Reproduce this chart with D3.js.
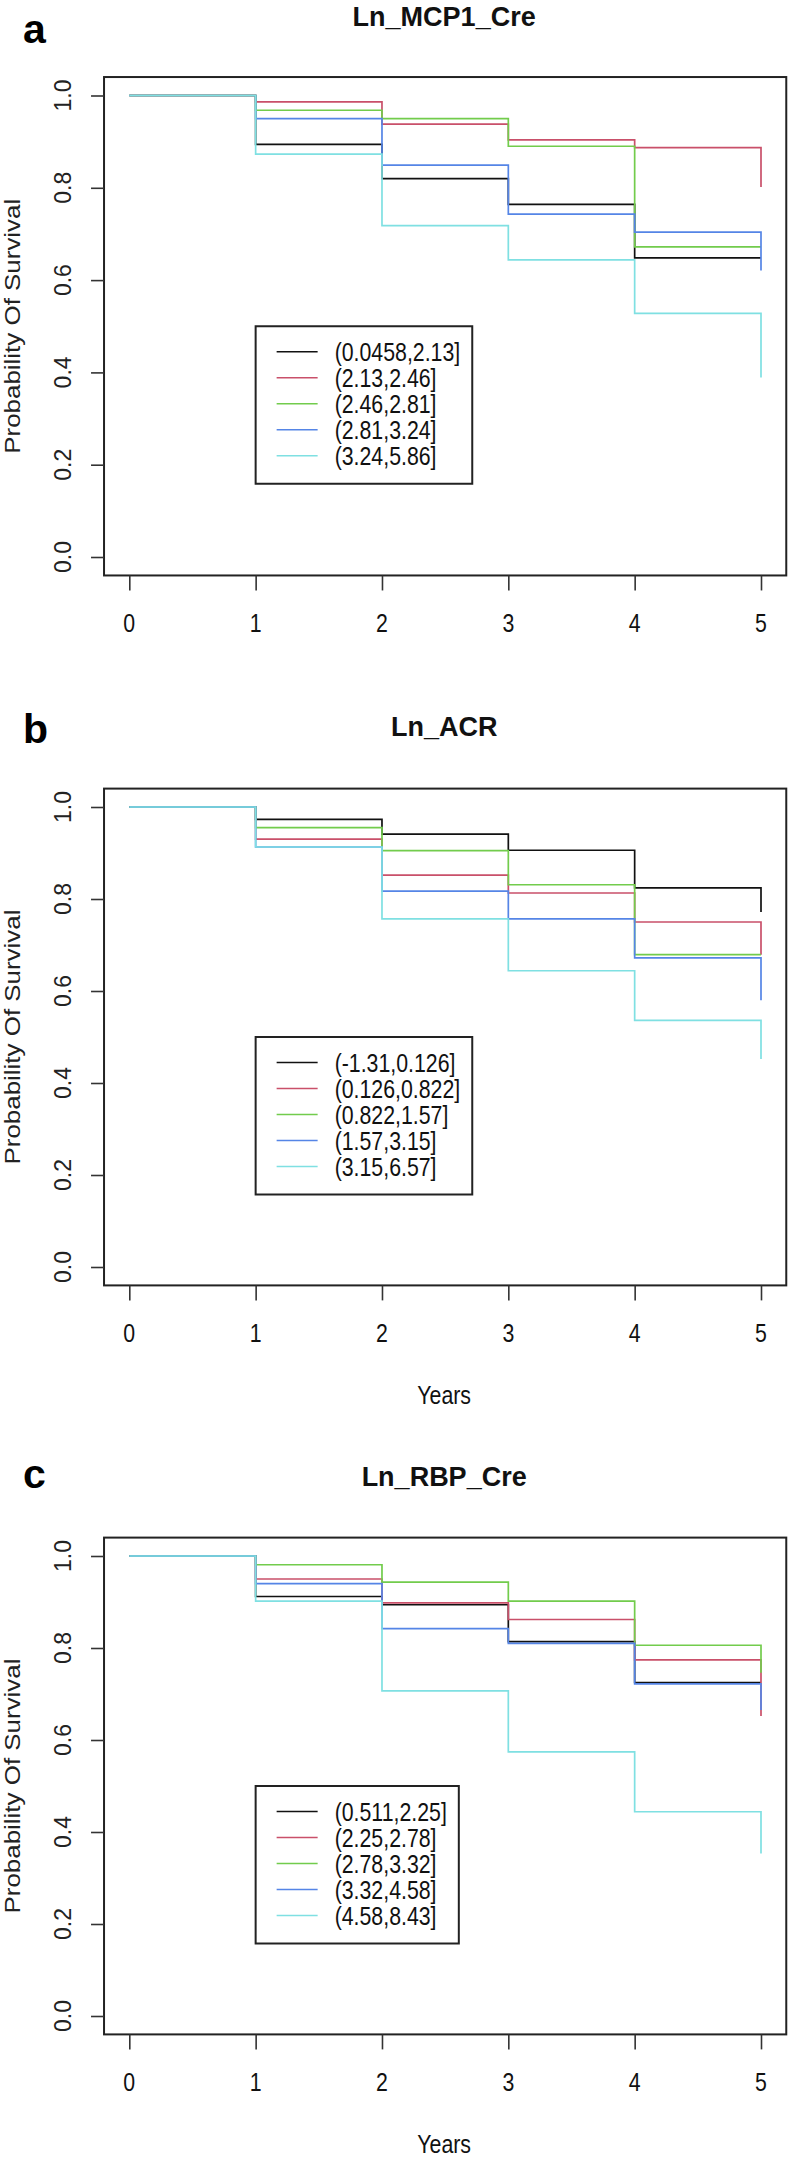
<!DOCTYPE html>
<html>
<head>
<meta charset="utf-8">
<script src="https://cdn.jsdelivr.net/npm/d3@7"></script>
<style>
  html, body { margin: 0; padding: 0; background: #fff; }
  svg { display: block; }
  text { font-family: "Liberation Sans", Arial, sans-serif; fill: #111; }
</style>
</head>
<body>
<div id="chart"></div>
<script>
// data
const years = [0, 1, 2, 3, 4, 5];
const xTicks = [0, 1, 2, 3, 4, 5];
const yTicks = [0, 0.2, 0.4, 0.6, 0.8, 1.0];

const panelTitles = ['Ln_MCP1_Cre', 'Ln_ACR', 'Ln_RBP_Cre'];
const panelLetters = ['a', 'b', 'c'];
const groupColors = ['#111111', '#C9506A', '#72CC4C', '#5585E6', '#7FE0E2'];

const mcp1Groups = ['(0.0458,2.13]', '(2.13,2.46]', '(2.46,2.81]', '(2.81,3.24]', '(3.24,5.86]'];
const mcp1Surv = [
  [1, 0.894, 0.820, 0.764, 0.648, 0.648],
  [1, 0.986, 0.938, 0.904, 0.887, 0.802],
  [1, 0.968, 0.950, 0.890, 0.672, 0.672],
  [1, 0.950, 0.849, 0.743, 0.704, 0.621],
  [1, 0.873, 0.718, 0.644, 0.528, 0.389]
];

const acrGroups = ['(-1.31,0.126]', '(0.126,0.822]', '(0.822,1.57]', '(1.57,3.15]', '(3.15,6.57]'];
const acrSurv = [
  [1, 0.973, 0.941, 0.906, 0.824, 0.772],
  [1, 0.930, 0.852, 0.813, 0.750, 0.679],
  [1, 0.955, 0.905, 0.831, 0.679, 0.679],
  [1, 0.913, 0.817, 0.757, 0.672, 0.580],
  [1, 0.913, 0.757, 0.644, 0.536, 0.452]
];

const rbpGroups = ['(0.511,2.25]', '(2.25,2.78]', '(2.78,3.32]', '(3.32,4.58]', '(4.58,8.43]'];
const rbpSurv = [
  [1, 0.912, 0.894, 0.814, 0.725, 0.725],
  [1, 0.950, 0.898, 0.862, 0.774, 0.652],
  [1, 0.981, 0.943, 0.902, 0.806, 0.746],
  [1, 0.940, 0.842, 0.810, 0.722, 0.665],
  [1, 0.902, 0.707, 0.574, 0.444, 0.353]
];

// layout
const width = 790;
const height = 2157;
const narrow = 0.82; // condensed look of the R device text

const panels = [
  { groups: mcp1Groups, surv: mcp1Surv, top: 95.5, bottom: 557, titleY: 26, letterY: 43, years: false },
  { groups: acrGroups, surv: acrSurv, top: 807, bottom: 1267, titleY: 736, letterY: 743, years: true },
  { groups: rbpGroups, surv: rbpSurv, top: 1556, bottom: 2016, titleY: 1486, letterY: 1488, years: true }
];

const svg = d3.select('#chart').append('svg')
    .attr('width', width)
    .attr('height', height)
    .attr('viewBox', '0 0 ' + width + ' ' + height);

svg.append('rect')
    .attr('width', width)
    .attr('height', height)
    .attr('fill', '#fff');

const xScale = d3.scaleLinear()
    .domain([0, 5])
    .range([129.3, 761]);

function narrowText(g, x, y, str, size, anchor) {
    return g.append('text')
        .attr('transform', 'translate(' + x + ',' + y + ') scale(' + narrow + ',1)')
        .attr('text-anchor', anchor || 'middle')
        .style('font-size', size + 'px')
        .text(str);
}

panels.forEach(function(p, pi) {
    const g = svg.append('g').attr('class', 'panel');

    const yScale = d3.scaleLinear()
        .domain([0, 1])
        .range([p.bottom, p.top]);

    const x0 = xScale(-0.2), x1 = xScale(5.2);
    const y0 = yScale(-0.04), y1 = yScale(1.04);

    // title and panel letter
    g.append('text')
        .attr('x', (x0 + x1) / 2 - 1)
        .attr('y', p.titleY)
        .attr('text-anchor', 'middle')
        .style('font-size', '27px')
        .style('font-weight', 'bold')
        .text(panelTitles[pi]);

    g.append('text')
        .attr('x', 23)
        .attr('y', p.letterY)
        .style('font-size', '41px')
        .style('font-weight', 'bold')
        .style('fill', '#000')
        .text(panelLetters[pi]);

    // curves
    const line = d3.line()
        .x((d, i) => xScale(years[i]))
        .y(d => yScale(d))
        .curve(d3.curveStepAfter);

    g.selectAll('.curve')
        .data(p.surv)
        .enter().append('path')
        .attr('class', 'curve')
        .attr('d', line)
        .attr('fill', 'none')
        .attr('stroke', (d, i) => groupColors[i])
        .attr('stroke-width', 1.7);

    // box
    g.append('rect')
        .attr('x', x0)
        .attr('y', y1)
        .attr('width', x1 - x0)
        .attr('height', y0 - y1)
        .attr('fill', 'none')
        .attr('stroke', '#222')
        .attr('stroke-width', 2);

    // x axis
    const xAxis = d3.axisBottom(xScale)
        .tickValues(xTicks)
        .tickSize(15)
        .tickFormat('');
    const gx = g.append('g')
        .attr('transform', 'translate(0,' + y0 + ')')
        .call(xAxis);
    gx.select('.domain').remove();
    gx.selectAll('line').attr('stroke', '#333').attr('stroke-width', 1.6);
    xTicks.forEach(t => narrowText(g, xScale(t), p.bottom + 75, String(t), 26));

    // y axis
    const yAxis = d3.axisLeft(yScale)
        .tickValues(yTicks)
        .tickSize(13)
        .tickFormat('');
    const gy = g.append('g')
        .attr('transform', 'translate(' + x0 + ',0)')
        .call(yAxis);
    gy.select('.domain').remove();
    gy.selectAll('line').attr('stroke', '#333').attr('stroke-width', 1.6);
    yTicks.forEach(t => {
        g.append('text')
            .attr('transform', 'translate(63,' + yScale(t) + ') rotate(-90)')
            .attr('text-anchor', 'middle')
            .attr('dy', '0.35em')
            .style('font-size', '23px')
            .style('fill', '#222')
            .text(d3.format('.1f')(t));
    });

    g.append('text')
        .attr('transform', 'translate(12.5,' + (y0 + y1) / 2 + ') rotate(-90)')
        .attr('text-anchor', 'middle')
        .attr('dy', '0.35em')
        .attr('textLength', 255)
        .attr('lengthAdjust', 'spacingAndGlyphs')
        .style('font-size', '22px')
        .style('fill', '#222')
        .text('Probability Of Survival');

    if (p.years) {
        narrowText(g, (x0 + x1) / 2 - 1, p.bottom + 137, 'Years', 26);
    }

    // legend at (1, 0.5) in data coordinates
    const lx = xScale(1);
    const ly = yScale(0.5);
    const leg = g.append('g');
    const box = leg.append('rect')
        .attr('x', lx)
        .attr('y', ly)
        .attr('height', 157.5)
        .attr('fill', '#fff')
        .attr('stroke', '#222')
        .attr('stroke-width', 2);
    let maxW = 0;
    p.groups.forEach((name, i) => {
        const cy = ly + 25.5 + i * 26;
        leg.append('line')
            .attr('x1', lx + 21)
            .attr('x2', lx + 62)
            .attr('y1', cy)
            .attr('y2', cy)
            .attr('stroke', groupColors[i])
            .attr('stroke-width', 1.7);
        const t = narrowText(leg, lx + 79, cy, name, 26, 'start')
            .attr('dy', '0.35em');
        maxW = Math.max(maxW, t.node().getComputedTextLength() * narrow);
    });
    box.attr('width', 79 + maxW + 12);
});
</script>
</body>
</html>
